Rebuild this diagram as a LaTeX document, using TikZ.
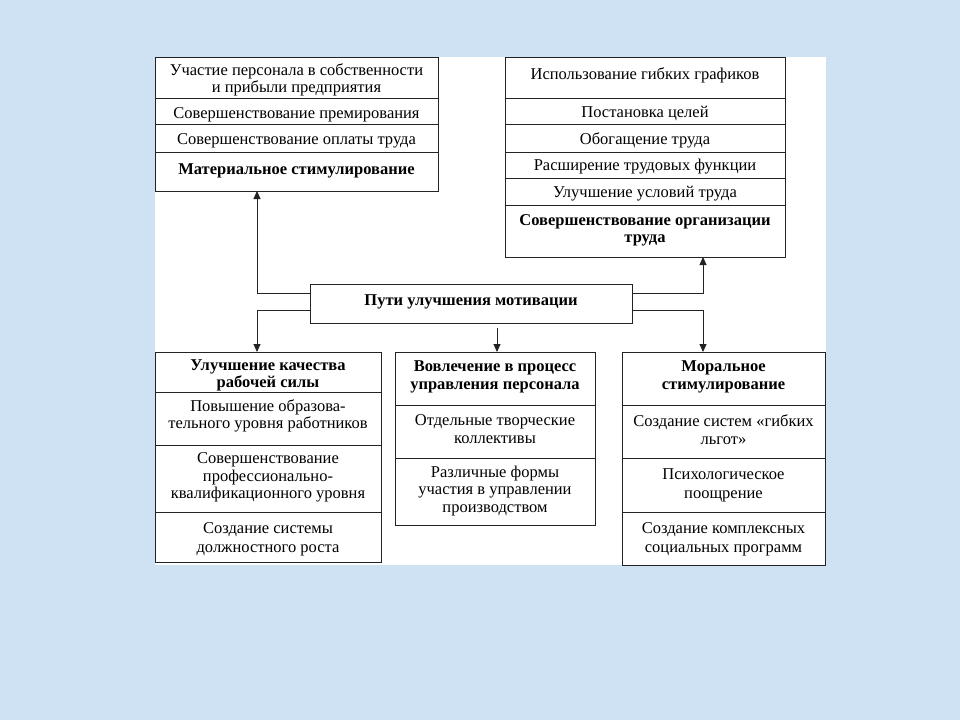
\documentclass[tikz,border=0pt]{standalone}
\usepackage{fontspec}
\setmainfont{Liberation Serif}
\usetikzlibrary{arrows.meta}
\definecolor{bgblue}{RGB}{206,226,243}
\definecolor{linec}{RGB}{35,35,35}
\begin{document}
\begin{tikzpicture}[x=1pt,y=-1pt,
  cellbox/.style={draw=linec,line width=0.9pt,fill=white,inner sep=0pt,outer sep=0pt},
  celltext/.style={inner sep=0pt,align=center,yshift=-2.5pt,font=\fontsize{16.5}{17.5}\selectfont},
  tighttext/.style={inner sep=0pt,align=center,yshift=-2.5pt,font=\fontsize{16.5}{13.5}\selectfont},
  boldtext/.style={inner sep=0pt,align=center,yshift=-2.5pt,font=\fontsize{16.5}{17.5}\selectfont\bfseries},
  arr/.style={draw=linec,line width=0.9pt,-{Triangle[length=8pt,width=7pt]}}]
\useasboundingbox (0,0) rectangle (960,720);
\fill[bgblue] (0,0) rectangle (960,720);
\fill[white] (155,57) rectangle (826,565);
% top left box
\node[cellbox,minimum width=283pt,minimum height=41pt] (tl1) at (296.5,77.5) {};
\node[cellbox,minimum width=283pt,minimum height=26pt] (tl2) at (296.5,111) {};
\node[cellbox,minimum width=283pt,minimum height=28pt] (tl3) at (296.5,138) {};
\node[cellbox,minimum width=283pt,minimum height=39pt] (tl4) at (296.5,171.5) {};
\node[tighttext] (tl1t) at ([yshift=0pt]tl1.center) {Участие персонала в собственности\\и прибыли предприятия};
\node[celltext] (tl2t) at ([yshift=-1pt]tl2.center) {Совершенствование премирования};
\node[celltext] (tl3t) at ([yshift=0pt]tl3.center) {Совершенствование оплаты труда};
\node[boldtext] (tl4t) at ([yshift=3.5pt]tl4.center) {Материальное стимулирование};
% top right box
\node[cellbox,minimum width=280pt,minimum height=41pt] (tr1) at (645,77.5) {};
\node[cellbox,minimum width=280pt,minimum height=26pt] (tr2) at (645,111) {};
\node[cellbox,minimum width=280pt,minimum height=28pt] (tr3) at (645,138) {};
\node[cellbox,minimum width=280pt,minimum height=26pt] (tr4) at (645,165) {};
\node[cellbox,minimum width=280pt,minimum height=27pt] (tr5) at (645,191.5) {};
\node[cellbox,minimum width=280pt,minimum height=52pt] (tr6) at (645,231) {};
\node[celltext] (tr1t) at ([yshift=4.5pt]tr1.center) {Использование гибких графиков};
\node[celltext] (tr2t) at ([yshift=0pt]tr2.center) {Постановка целей};
\node[celltext] (tr3t) at ([yshift=0pt]tr3.center) {Обогащение труда};
\node[celltext] (tr4t) at ([yshift=1pt]tr4.center) {Расширение трудовых функции};
\node[celltext] (tr5t) at ([yshift=0.5pt]tr5.center) {Улучшение условий труда};
\node[boldtext] (tr6t) at ([yshift=3pt]tr6.center) {Совершенствование организации\\труда};
% centre box
\node[cellbox,minimum width=322pt,minimum height=39pt] (c) at (471,303.5) {};
\node[boldtext] (ct) at ([yshift=4.5pt]c.center) {Пути улучшения мотивации};
% bottom left box
\node[cellbox,minimum width=226pt,minimum height=40pt] (bl1) at (268,372) {};
\node[cellbox,minimum width=226pt,minimum height=53pt] (bl2) at (268,418.5) {};
\node[cellbox,minimum width=226pt,minimum height=67pt] (bl3) at (268,478.5) {};
\node[cellbox,minimum width=226pt,minimum height=50pt] (bl4) at (268,537) {};
\node[boldtext,font=\fontsize{16.5}{14}\selectfont\bfseries] (bl1t) at ([yshift=-1pt]bl1.center) {Улучшение качества\\рабочей силы};
\node[celltext] (bl2t) at ([yshift=5pt]bl2.center) {Повышение образова-\\тельного уровня работников};
\node[celltext] (bl3t) at ([yshift=3.5pt]bl3.center) {Совершенствование\\профессионально-\\квалификационного уровня};
\node[celltext,font=\fontsize{16.5}{19}\selectfont] (bl4t) at ([yshift=0.5pt]bl4.center) {Создание системы\\должностного роста};
% bottom middle box
\node[cellbox,minimum width=200pt,minimum height=53pt] (bm1) at (495,378.5) {};
\node[cellbox,minimum width=200pt,minimum height=53pt] (bm2) at (495,431.5) {};
\node[cellbox,minimum width=200pt,minimum height=67pt] (bm3) at (495,491.5) {};
\node[boldtext] (bm1t) at ([yshift=4pt]bm1.center) {Вовлечение в процесс\\управления персонала};
\node[celltext] (bm2t) at ([yshift=5pt]bm2.center) {Отдельные творческие\\коллективы};
\node[celltext] (bm3t) at ([yshift=3pt]bm3.center) {Различные формы\\участия в управлении\\производством};
% bottom right box
\node[cellbox,minimum width=203pt,minimum height=53pt] (br1) at (723.5,378.5) {};
\node[cellbox,minimum width=203pt,minimum height=53pt] (br2) at (723.5,431.5) {};
\node[cellbox,minimum width=203pt,minimum height=54pt] (br3) at (723.5,485) {};
\node[cellbox,minimum width=203pt,minimum height=53pt] (br4) at (723.5,538.5) {};
\node[boldtext] (br1t) at ([yshift=4pt]br1.center) {Моральное\\стимулирование};
\node[celltext] (br2t) at ([yshift=4.5pt]br2.center) {Создание систем «гибких\\льгот»};
\node[celltext,font=\fontsize{16.5}{19}\selectfont] (br3t) at ([yshift=2.5pt]br3.center) {Психологическое\\поощрение};
\node[celltext,font=\fontsize{16.5}{19}\selectfont] (br4t) at ([yshift=2pt]br4.center) {Создание комплексных\\социальных программ};
% connectors
\coordinate (lx) at (257,0);
\coordinate (rx) at (703,0);
\coordinate (ms) at (497,328);
\draw[arr] ([yshift=10.5pt]c.west) -| (lx |- tl4.south);
\draw[arr] ([yshift=10.5pt]c.east) -| (rx |- tr6.south);
\draw[arr] ([yshift=-6.5pt]c.west) -| (lx |- bl1.north);
\draw[arr] ([yshift=-6.5pt]c.east) -| (rx |- br1.north);
\draw[arr] (ms) -- (ms |- bm1.north);
\end{tikzpicture}
\end{document}
